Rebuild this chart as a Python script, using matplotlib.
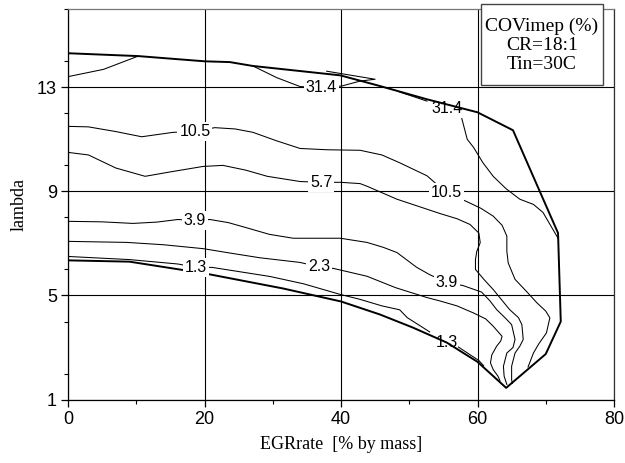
"""
COVimep contour map vs EGR rate and lambda (CR=18:1, Tin=30C).
Contour lines digitised by hand, drawn as plain polylines.
"""

import matplotlib.pyplot as plt
from matplotlib.patches import Rectangle
from matplotlib.ticker import MultipleLocator

# ── Operating boundary (thick line) ───────────────────────────
bound_x = [0, 9, 20, 31.5, 40, 45.7, 50.5, 55.5, 60, 64.2, 70, 72.2, 71.8,
           65.2, 60, 52.6, 45.7, 39.9, 27.1, 23.7, 20, 10.3, 0]
bound_y = [6.35, 6.3, 5.85, 5.27, 4.77, 4.27, 3.77, 3.19, 2.45, 1.45, 2.75, 4.0, 7.4,
           11.35, 12.04, 12.54, 13.05, 13.46, 13.82, 13.97, 14.0, 14.2, 14.31]

# ── COVimep contours (thin lines), one or more pieces each ────
c314_a_x = [0, 5.2, 10.3]
c314_a_y = [13.41, 13.69, 14.2]
c314_b_x = [27.1, 30.6, 34, 37.1, 40.1, 42.8, 45.0, 37.9]
c314_b_y = [13.82, 13.37, 13.03, 12.98, 13.05, 13.24, 13.31, 13.62]
c314_c_x = [48.6, 52.6]
c314_c_y = [12.82, 12.47]
c314_d_x = [57.7, 58.5, 59.4, 60.8, 62.3, 64.2, 66.2, 68.2, 69.6, 71.8]
c314_d_y = [11.8, 11.0, 10.7, 10.1, 9.58, 9.1, 8.7, 8.5, 8.19, 7.2]

c105_x = [0, 3, 7, 10.8, 15.4, 18.6, 21.5, 24.5, 27.1, 30.5, 34, 38, 42.8, 46,
          48.6, 52.6, 55.4, 58.5, 60.5, 62.3, 63.6, 64.3, 64.3, 64.5, 65.5, 67.2,
          68.7, 70.0, 70.6, 70.1, 69.0, 68.2, 67.4]
c105_y = [11.5, 11.48, 11.3, 11.1, 11.27, 11.3, 11.45, 11.4, 11.27, 10.95, 10.65, 10.6,
          10.58, 10.4, 10.1, 9.6, 8.96, 8.6, 8.35, 8.05, 7.7, 7.28, 6.7, 6.25, 5.62, 5.15,
          4.72, 4.4, 4.14, 3.56, 3.15, 2.79, 2.25]

c57_x = [0, 3, 7, 11.3, 15, 19.8, 22.7, 26, 29.2, 34, 37.1, 39.9, 42.8, 43.8, 46,
         48.2, 54.5, 57, 58.9, 60.2, 60.4, 59.9, 59.7, 59.7, 61, 62.3, 64.7, 66.0,
         66.5, 66.7, 66.2, 65.5, 65.0, 65.0, 65.1]
c57_y = [10.5, 10.4, 9.9, 9.58, 9.75, 9.96, 10.0, 9.82, 9.58, 9.38, 9.35, 9.35, 9.3,
         9.2, 8.95, 8.7, 8.15, 7.95, 7.73, 7.4, 7.03, 6.7, 6.38, 6.0, 5.6, 5.23, 4.46,
         4.15, 3.88, 3.31, 3.05, 2.79, 2.28, 1.77, 1.62]

c39_x = [0, 5, 9.5, 13, 16.1, 18.6, 20.8, 23.5, 26.2, 29.5, 33, 36.5, 39.9, 43.8,
         46.2, 48.2, 51.1, 53, 55.5, 57.9, 60.6, 61.8, 62.8, 64.2, 65.0, 65.5, 65.2,
         64.3, 63.8, 63.9, 64.3]
c39_y = [7.85, 7.83, 7.77, 7.82, 7.92, 7.88, 7.92, 7.8, 7.6, 7.35, 7.2, 7.2, 7.2, 7.04,
         6.85, 6.65, 6.08, 5.8, 5.5, 5.38, 5.13, 4.8, 4.46, 4.1, 3.88, 3.31, 3.0, 2.79,
         2.28, 1.9, 1.58]

c23_x = [0, 8.6, 14, 19.8, 24, 28.1, 34, 36.8, 38.9, 43.8, 48, 52.6, 54.5, 57,
         59.4, 61.2, 62.3, 63.6, 63.4, 62.8, 62.1, 61.9, 62.3, 63.0, 63.3]
c23_y = [7.08, 7.04, 6.95, 6.8, 6.62, 6.45, 6.27, 6.1, 6.04, 5.74, 5.3, 4.92, 4.79, 4.6,
         4.33, 4.1, 3.82, 3.43, 3.25, 3.05, 2.72, 2.41, 2.15, 1.9, 1.72]

c13_a_x = [0, 9, 16.1, 18.75, 21.1, 25, 29.6, 34.5, 39.9, 42.8, 46, 48.6, 49.7, 53]
c13_a_y = [6.5, 6.38, 6.21, 6.08, 6.08, 5.92, 5.73, 5.45, 5.04, 4.85, 4.6, 4.45, 4.15, 3.6]
c13_b_x = [57.2, 60.2, 60.9]
c13_b_y = [3.02, 2.5, 2.3]

# label text, position, and whether it sits on a white box
labels = [
    ("31.4", 37.1, 12.98, True),
    ("31.4", 55.5, 12.2, False),
    ("10.5", 18.6, 11.3, True),
    ("10.5", 55.4, 8.96, True),
    ("5.7", 37.1, 9.35, True),
    ("3.9", 18.6, 7.87, True),
    ("3.9", 55.5, 5.5, True),
    ("2.3", 36.8, 6.1, True),
    ("1.3", 18.75, 6.08, True),
    ("1.3", 55.5, 3.18, False),
]

x_ticks = [0, 20, 40, 60, 80]
y_ticks = [1, 5, 9, 13]

# ── Plot ───────────────────────────────────────────────────────
fig = plt.figure(figsize=(6.25, 4.63), dpi=100)
ax = fig.add_axes([0.1088, 0.137, 0.8736, 0.843])

sans = "Liberation Sans"
serif = "Liberation Serif"

for xs, ys in [(c314_a_x, c314_a_y), (c314_b_x, c314_b_y), (c314_c_x, c314_c_y),
               (c314_d_x, c314_d_y), (c105_x, c105_y), (c57_x, c57_y),
               (c39_x, c39_y), (c23_x, c23_y), (c13_a_x, c13_a_y), (c13_b_x, c13_b_y)]:
    ax.plot(xs, ys, color="black", lw=0.75, zorder=3)

ax.plot(bound_x, bound_y, color="black", lw=1.4, zorder=4)

for txt, lx, ly, boxed in labels:
    kw = {}
    if boxed:
        kw["bbox"] = dict(boxstyle="square,pad=0.12", fc="white", ec="none")
    ax.text(lx, ly, txt, fontsize=11.5, family=sans, ha="center", va="center",
            zorder=5, **kw)

ax.set_xlim(0, 80)
ax.set_ylim(1, 16)
ax.set_xticks(x_ticks)
ax.set_yticks(y_ticks)
ax.xaxis.set_minor_locator(MultipleLocator(10))
ax.yaxis.set_minor_locator(MultipleLocator(2))
ax.tick_params(which="major", direction="out", length=5, width=0.9, labelsize=13, pad=3)
ax.tick_params(which="minor", direction="out", length=3, width=0.8)
for lab in ax.get_xticklabels() + ax.get_yticklabels():
    lab.set_family(sans)

ax.grid(True, which="major", color="black", lw=0.8)
ax.set_axisbelow(True)
ax.spines["top"].set_color("#777777")
ax.spines["right"].set_color("#333333")
for s in ax.spines.values():
    s.set_linewidth(0.9)

ax.set_xlabel("EGRrate  [% by mass]", family=serif, fontsize=13, labelpad=6)
ax.set_ylabel("lambda", family=serif, fontsize=13, labelpad=7)

# annotation box, top right
ax.add_patch(Rectangle((60.5, 13.08), 17.9, 3.11, fc="white", ec="#444444", lw=1.0,
                       clip_on=False, zorder=6))
ax.text(69.45, 14.62, "COVimep (%)\nCR=18:1\nTin=30C", family=serif, fontsize=14,
        ha="center", va="center", linespacing=1.13, zorder=7)

plt.savefig("out.png", dpi=100)
